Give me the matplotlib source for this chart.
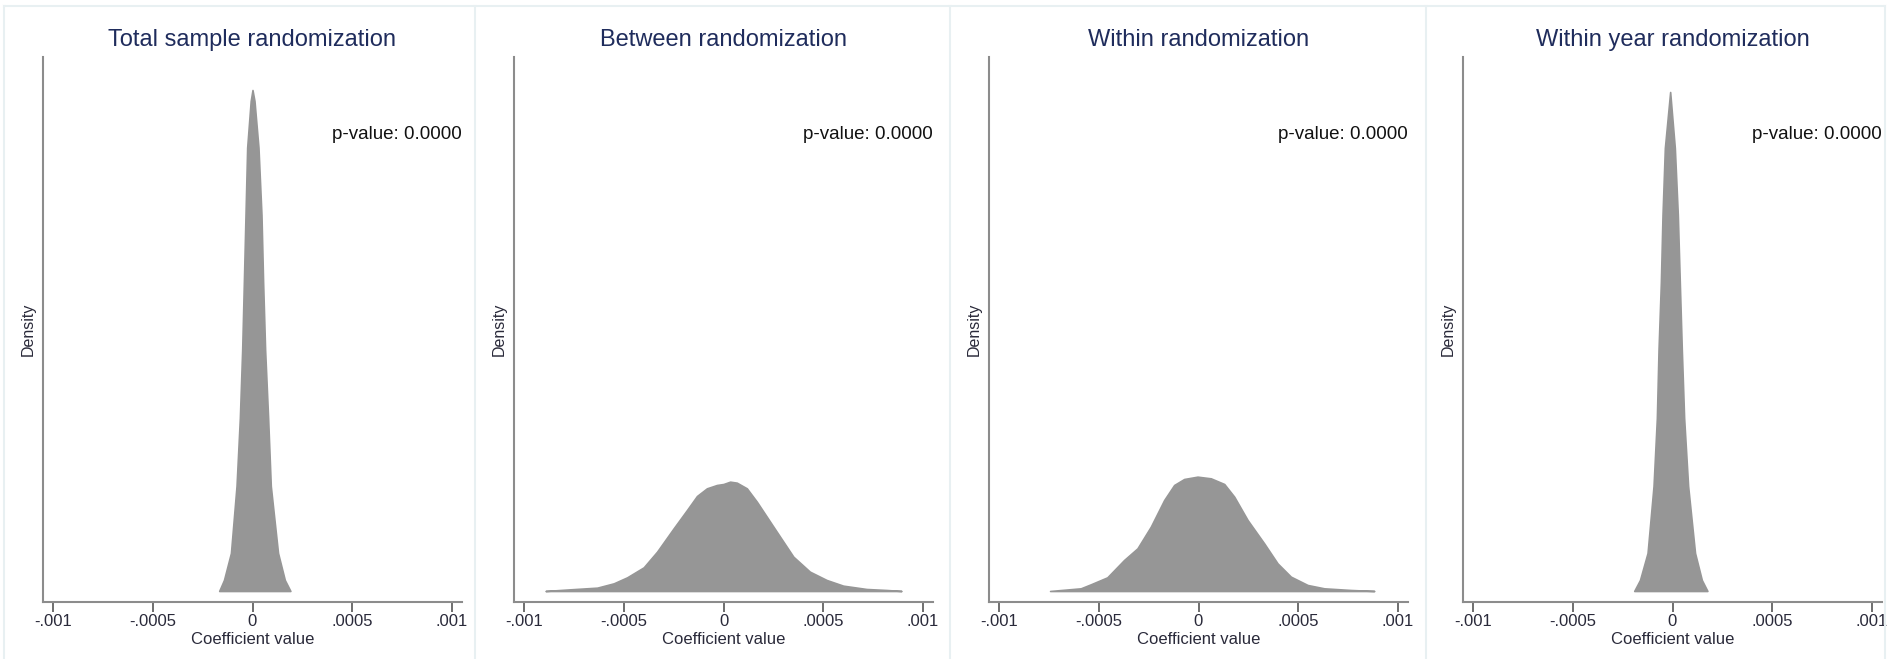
import matplotlib
matplotlib.use("Agg")
import matplotlib.pyplot as plt
from matplotlib.lines import Line2D

plt.rcParams['font.family'] = ['Liberation Sans', 'DejaVu Sans']

titles = ["Total sample randomization", "Between randomization",
          "Within randomization", "Within year randomization"]
p_values = [0.0, 0.0, 0.0, 0.0]

# kernel density of the placebo coefficients, one curve per scheme
total_x = [-0.000167, -0.000143, -0.000108, -0.00008, -0.0000633, -0.0000517,
           -0.0000433, -0.000035, -0.0000267, -0.000009, 0.0, 0.00001,
           0.00003, 0.000045, 0.0000533, 0.0000633, 0.0000783, 0.0000917,
           0.000128, 0.000162, 0.00019]
total_d = [0, 165, 570, 1575, 2595, 3615, 4620, 5640, 6650, 7350, 7515, 7350,
           6650, 5640, 4620, 3615, 2595, 1575, 570, 165, 0]

between_x = [-0.000892, -0.000767, -0.000633, -0.00055, -0.000483, -0.0004,
             -0.000333, -0.00025, -0.000183, -0.000133, -0.0000833, -0.0000333,
             0.0, 0.0000333, 0.0000667, 0.000117, 0.000167, 0.00025, 0.00035,
             0.000433, 0.000517, 0.0006, 0.000717, 0.000817, 0.000892]
between_d = [0, 25, 50, 115, 205, 355, 590, 940, 1215, 1425, 1540, 1590,
             1605, 1640, 1625, 1540, 1340, 965, 515, 290, 165, 80, 30, 15, 0]

within_x = [-0.000744, -0.00059, -0.00054, -0.000457, -0.000373, -0.000306,
            -0.000239, -0.000172, -0.000122, -0.0000719, -0.000005, 0.0000619,
            0.000129, 0.000179, 0.000246, 0.000329, 0.000396, 0.000463,
            0.000547, 0.00063, 0.000764, 0.000881]
within_d = [0, 40, 100, 205, 465, 640, 965, 1365, 1590, 1680, 1715, 1690,
            1605, 1415, 1065, 715, 415, 215, 90, 40, 15, 0]

year_x = [-0.000192, -0.000163, -0.000125, -0.000095, -0.0000783, -0.00007,
          -0.0000583, -0.00005, -0.0000383, -0.0000117, 0.0000117, 0.0000267,
          0.0000367, 0.0000467, 0.0000583, 0.0000783, 0.000113, 0.000147,
          0.000175]
year_d = [0, 165, 570, 1575, 2595, 3615, 4620, 5640, 6645, 7485, 6645, 5640,
          4620, 3615, 2595, 1575, 570, 165, 0]

tick_vals = [-0.001, -0.0005, 0, 0.0005, 0.001]
tick_labels = ["-.001", "-.0005", "0", ".0005", ".001"]

curves = [(total_x, total_d), (between_x, between_d),
          (within_x, within_d), (year_x, year_d)]

W, H = 1889, 659
fig = plt.figure(figsize=(W / 100, H / 100), dpi=100)
fig.patch.set_facecolor('white')

ax_left = [43, 514, 989, 1463]
ax_w, ax_top, ax_bot = 419, 57, 602

fill_col = '#969696'
axis_col = '#8c8c8c'
title_col = '#1f2c5c'

for i, (xs, ds) in enumerate(curves):
    ax = fig.add_axes([ax_left[i] / W, (H - ax_bot) / H,
                       ax_w / W, (ax_bot - ax_top) / H])
    ax.fill_between(xs, ds, 0, color=fill_col, edgecolor=fill_col, linewidth=1.2)
    ax.set_xlim(-0.00105, 0.00105)
    ax.set_ylim(-165, 8010)
    for s in ['top', 'right']:
        ax.spines[s].set_visible(False)
    for s in ['left', 'bottom']:
        ax.spines[s].set_color(axis_col)
        ax.spines[s].set_linewidth(1.5)
    ax.set_yticks([])
    ax.set_xticks(tick_vals)
    ax.set_xticklabels(tick_labels)
    ax.tick_params(axis='x', length=7.2, width=1.2, color='#555555',
                   pad=1.5, labelsize=12, labelcolor='#2a2a3a')

    ax.text(0.5, 1.031, titles[i], transform=ax.transAxes, ha='center',
            va='center', fontsize=17, color=title_col)
    ax.text(1.0, 0.857, f"p-value: {p_values[i]:.4f}", transform=ax.transAxes,
            ha='right', va='center', fontsize=13.5, color='#111111')
    ax.text(0.5, -0.068, "Coefficient value", transform=ax.transAxes,
            ha='center', va='center', fontsize=12, color='#2a2a3a')
    ax.text(-0.036, 0.5, "Density", transform=ax.transAxes, rotation=90,
            ha='center', va='center', fontsize=11.5, color='#2a2a3a')

# light frames between the panels
frame_col = '#e8f0f2'
fig.add_artist(Line2D([4 / W, 1885 / W], [1 - 6 / H, 1 - 6 / H],
                      transform=fig.transFigure, color=frame_col, lw=1.5))
for xp in [4, 475, 950, 1426, 1885]:
    fig.add_artist(Line2D([xp / W, xp / W], [0, 1 - 6 / H],
                          transform=fig.transFigure, color=frame_col, lw=1.5))

fig.savefig("out.png", dpi=100, facecolor='white')
